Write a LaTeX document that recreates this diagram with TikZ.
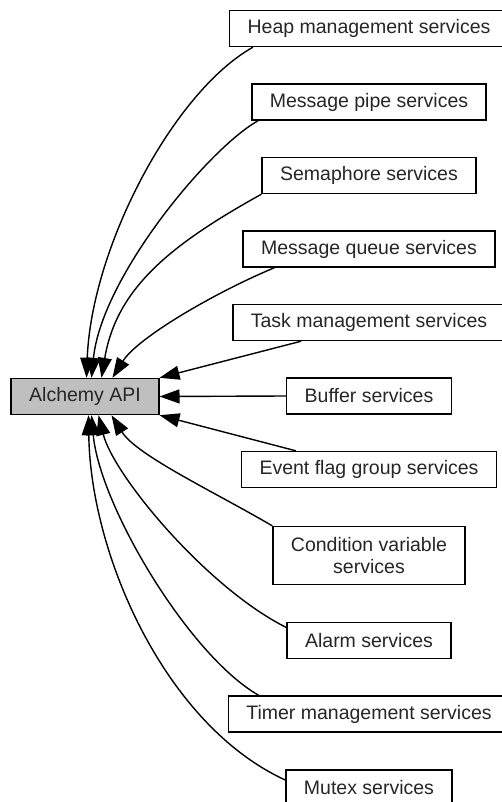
\documentclass[tikz,border=0pt]{standalone}
\usepackage{fontspec}
\setmainfont{Liberation Sans}
\usetikzlibrary{arrows.meta, calc}
\definecolor{apigray}{HTML}{BFBFBF}
\tikzstyle{srv} = [rectangle, draw=black, fill=white, line width=1.4pt, minimum height=36pt, inner xsep=18pt, text centered, text=black!85, font=\fontsize{19.5}{22}\selectfont]
\tikzstyle{api} = [srv, fill=apigray]
\tikzstyle{lnk} = [line width=1.4pt, -{Triangle[length=20pt,width=14pt]}]

\begin{document}
\begin{tikzpicture}[x=1pt, y=-1pt, node distance=73.5pt]
\useasboundingbox (0,0) rectangle (502,802);

\node (alchemy) [api] at (85,396.5) {Alchemy API};

\node (heap) [srv] at (369,28.5) {Heap management services};
\node (pipe) [srv, below of=heap] {Message pipe services};
\node (sem) [srv, below of=pipe] {Semaphore services};
\node (queue) [srv, below of=sem] {Message queue services};
\node (task) [srv, below of=queue] {Task management services};
\node (buffer) [srv, below of=task] {Buffer services};
\node (event) [srv, below of=buffer] {Event flag group services};
\node (cond) [srv, align=center, minimum height=58pt, below of=event, yshift=-12.5pt] {Condition variable\\services};
\node (alarm) [srv, below of=cond, yshift=-11.5pt] {Alarm services};
\node (timer) [srv, below of=alarm] {Timer management services};
\node (mutex) [srv, below of=timer, yshift=-0.5pt] {Mutex services};

\draw [lnk] ($(heap.south west)+(24,0)$) .. controls +(-80,45) and +(5,-130) .. ($(alchemy.north west)+(76,0)$);
\draw [lnk] ($(pipe.south west)+(7,0)$) .. controls +(-50,28) and +(10,-100) .. ($(alchemy.north west)+(81,0)$);
\draw [lnk] (sem.south west) .. controls +(-90,50) and +(15,-90) .. ($(alchemy.north west)+(91,0)$);
\draw [lnk] ($(queue.south west)+(32,0)$) .. controls +(-60,25) and +(25,-40) .. ($(alchemy.north west)+(102,0)$);
\draw [lnk] ($(task.south west)+(69,0)$) -- (alchemy.north east);
\draw [lnk] (buffer.west) -- (alchemy.east);
\draw [lnk] ($(event.north west)+(55,0)$) -- (alchemy.south east);
\draw [lnk] (cond.north west) .. controls +(-60,-35) and +(25,40) .. ($(alchemy.south west)+(101,0)$);
\draw [lnk] ($(alarm.west)+(0,-13)$) .. controls +(-80,-40) and +(15,60) .. ($(alchemy.south west)+(88,0)$);
\draw [lnk] ($(timer.north west)+(31,0)$) .. controls +(-70,-40) and +(8,90) .. ($(alchemy.south west)+(81,0)$);
\draw [lnk] ($(mutex.west)+(0,-8)$) .. controls +(-120,-55) and +(2,140) .. ($(alchemy.south west)+(78,0)$);

\end{tikzpicture}
\end{document}
